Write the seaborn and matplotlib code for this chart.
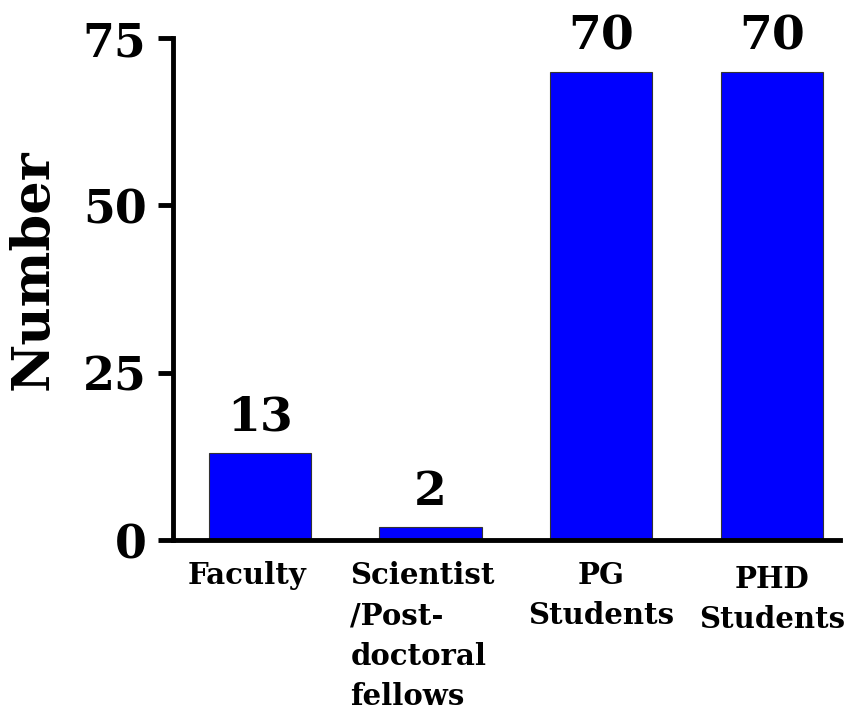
import matplotlib
matplotlib.use('Agg')
import matplotlib.pyplot as plt
import matplotlib.transforms as mtransforms
import seaborn as sns

categories = ['Faculty', 'Scientist\n/Post-\ndoctoral\nfellows', 'PG\nStudents', 'PHD\nStudents']
values = [13, 2, 70, 70]
yticks = [0, 25, 50, 75]

sns.set_style('white')
plt.rcParams['font.family'] = ['DejaVu Serif']
plt.rcParams['font.weight'] = 'bold'
plt.rcParams['text.color'] = 'black'
plt.rcParams['xtick.color'] = 'black'
plt.rcParams['ytick.color'] = 'black'
plt.rcParams['axes.labelcolor'] = 'black'

fig = plt.figure(figsize=(8.62, 7.11), dpi=100)
ax = fig.add_axes([0.2007, 0.2405, 0.774, 0.706])

sns.barplot(x=categories, y=values, color='#0000FF', saturation=1, width=0.6,
            edgecolor='#333333', linewidth=0.8, ax=ax)

for i, v in enumerate(values):
    ax.text(i, v + 1.8, str(v), ha='center', va='bottom', fontsize=34,
            fontweight='bold', color='black')

ax.set_ylim(0, 75)
ax.set_xlim(-0.51, 3.4)
ax.set_yticks(yticks)
ax.set_yticklabels([str(t) for t in yticks], fontsize=33, fontweight='bold')
ax.set_ylabel('Number', fontsize=38, fontweight='bold')
ax.yaxis.set_label_coords(-0.172, 0.538)

sns.despine(ax=ax)
for s in ['left', 'bottom']:
    ax.spines[s].set_linewidth(3.5)
    ax.spines[s].set_color('black')

ax.tick_params(axis='y', direction='out', length=11, width=3.5, pad=8, left=True)
ax.tick_params(axis='x', length=0, pad=15)

for lab in ax.get_xticklabels():
    lab.set_fontsize(21)
    lab.set_fontweight('bold')
    lab.set_linespacing(1.5)
labs = ax.get_xticklabels()
labs[1].set_multialignment('left')
# small nudges to match the original label placement
shifts = [(-13, 0), (-8, 0), (0, 0), (0, -4)]
for lab, (dx, dy) in zip(labs, shifts):
    lab.set_transform(lab.get_transform() +
                      mtransforms.ScaledTranslation(dx / 100, dy / 100, fig.dpi_scale_trans))

fig.savefig('out.png', dpi=100)
